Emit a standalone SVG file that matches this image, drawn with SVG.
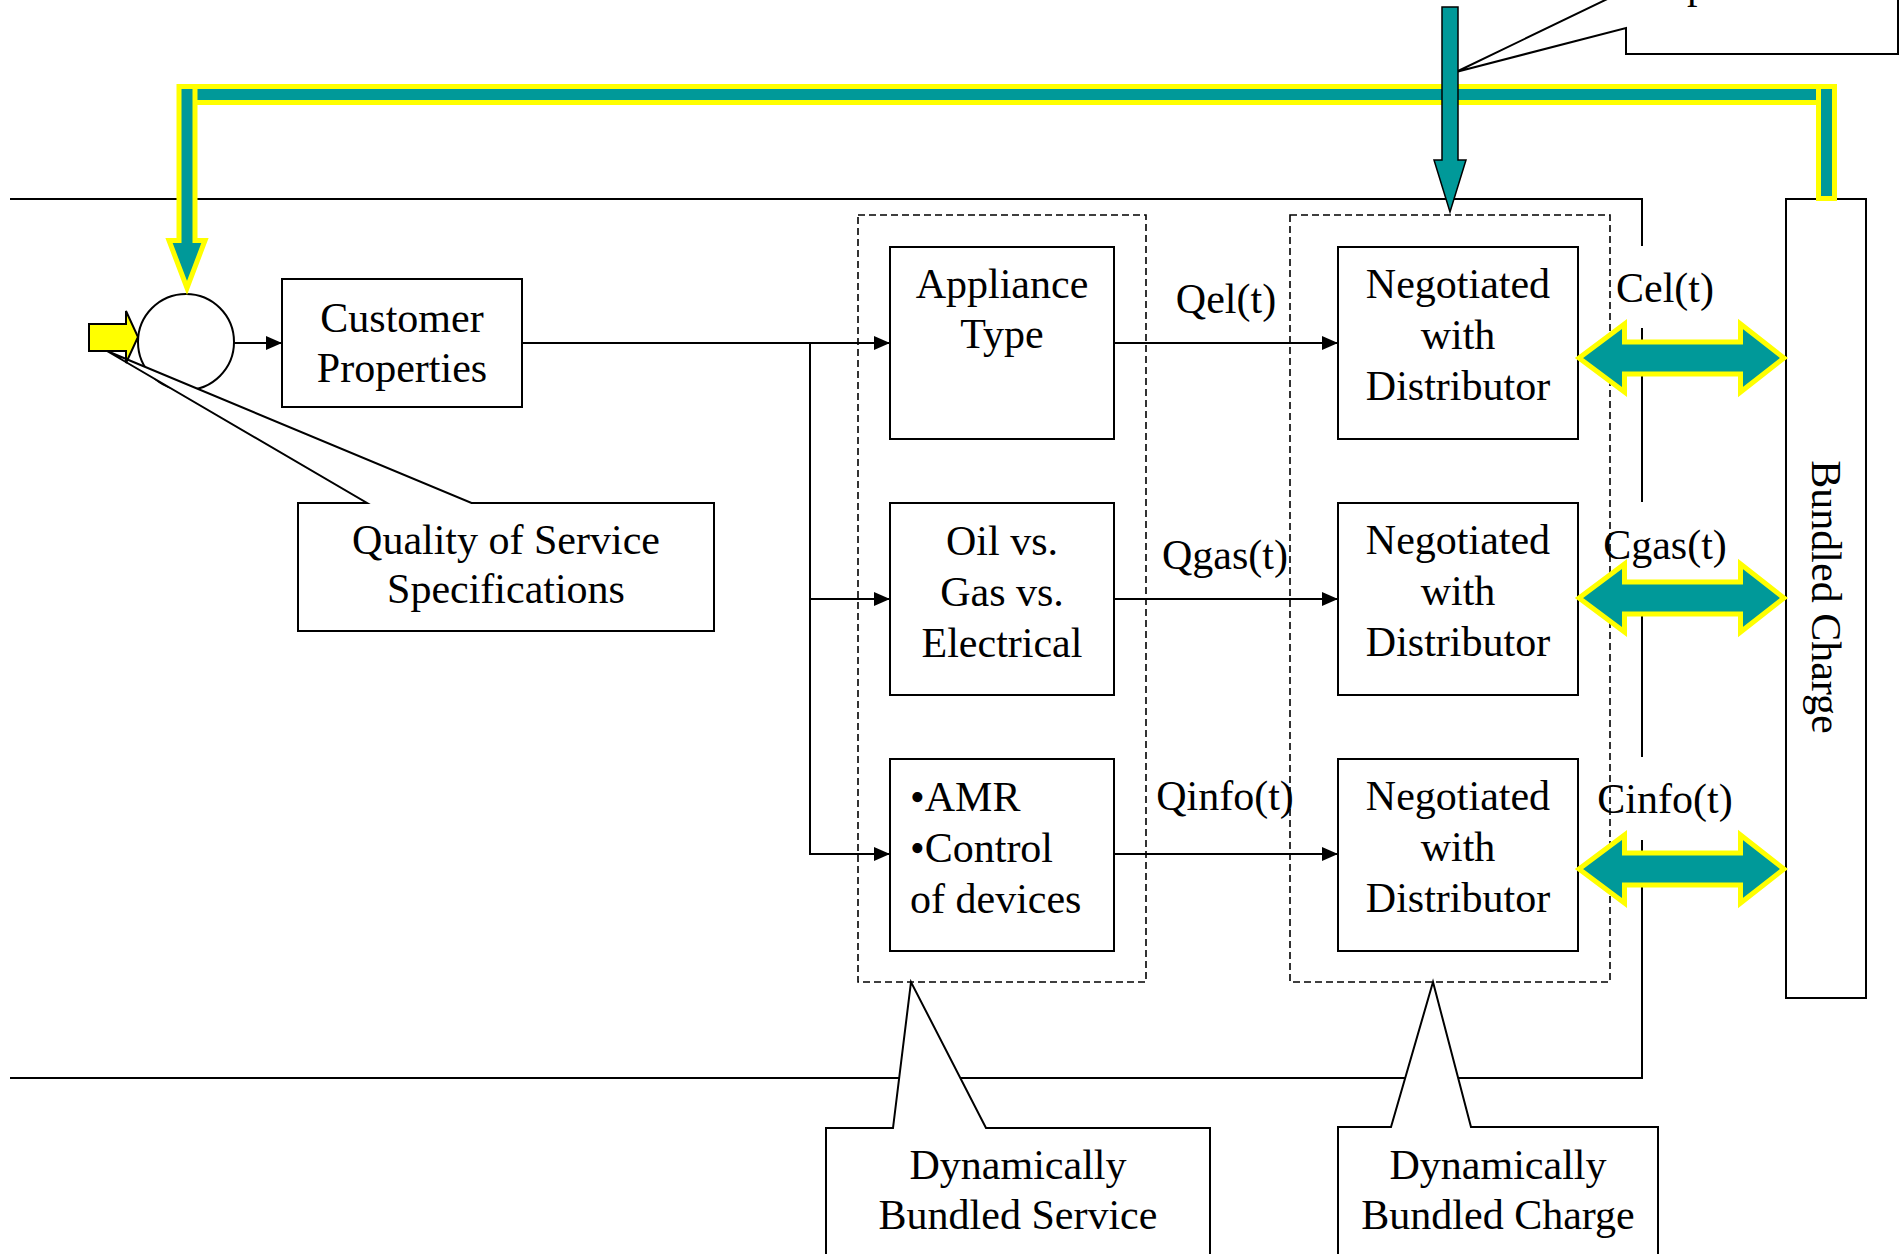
<svg xmlns="http://www.w3.org/2000/svg" width="1900" height="1254" viewBox="0 0 1900 1254">
<style>
.box{fill:#fff;stroke:#000;stroke-width:2}
.t{font-family:"Liberation Serif","Times New Roman",serif;font-size:42px;fill:#000}
.c{text-anchor:middle}
.dash{fill:none;stroke:#000;stroke-width:1.6;stroke-dasharray:7 4}
.ln{fill:none;stroke:#000;stroke-width:2}
.conn{fill:none;stroke:#000;stroke-width:2;marker-end:url(#ah)}
.callout{fill:#fff;stroke:#000;stroke-width:2;stroke-linejoin:miter}
.bus{fill:#009999;stroke:#ffff00;stroke-width:5;stroke-linejoin:miter}
.dbl{fill:#009999;stroke:#ffff00;stroke-width:5;stroke-linejoin:miter}
</style>
<defs>
<marker id="ah" markerUnits="userSpaceOnUse" markerWidth="16" markerHeight="14" refX="16" refY="7" orient="auto">
<path d="M0,0 L16,7 L0,14 z" fill="#000"/>
</marker>
<path id="dblArrow" class="dbl" d="M0,0 L45.5,-34 L45.5,-16 L161.5,-16 L161.5,-34 L205,0 L161.5,34 L161.5,16 L45.5,16 L45.5,34 Z"/>
</defs>
<rect width="1900" height="1254" fill="#fff"/>

<!-- frame -->
<g id="frame">
<path class="ln" d="M10,199 H1642 V246"/>
<path class="ln" d="M1642,328 V502"/>
<path class="ln" d="M1642,582 V757"/>
<path class="ln" d="M1642,840 V1078 H10"/>
</g>

<!-- dashed groups -->
<g id="group-service"><rect class="dash" x="858" y="215" width="288" height="767"/></g>
<g id="group-charge"><rect class="dash" x="1290" y="215" width="320" height="767"/></g>

<!-- connectors -->
<g id="connectors">
<path class="conn" d="M234,343 H282"/>
<path class="conn" d="M522,343 H890"/>
<path class="conn" d="M810,343 V854 H890"/>
<path class="conn" d="M810,599 H890"/>
<path class="conn" d="M1114,343 H1338"/>
<path class="conn" d="M1114,599 H1338"/>
<path class="conn" d="M1114,854 H1338"/>
</g>

<!-- nodes -->
<g id="customer-properties">
<rect class="box" x="282" y="279" width="240" height="128"/>
<text class="t c" x="402" y="332">Customer</text>
<text class="t c" x="402" y="382">Properties</text>
</g>
<g id="appliance-type">
<rect class="box" x="890" y="247" width="224" height="192"/>
<text class="t c" x="1002" y="298">Appliance</text>
<text class="t c" x="1002" y="348">Type</text>
</g>
<g id="oil-gas-electrical">
<rect class="box" x="890" y="503" width="224" height="192"/>
<text class="t c" x="1002" y="555">Oil vs.</text>
<text class="t c" x="1002" y="606">Gas vs.</text>
<text class="t c" x="1002" y="657">Electrical</text>
</g>
<g id="amr-control">
<rect class="box" x="890" y="759" width="224" height="192"/>
<text class="t" x="910" y="811">•AMR</text>
<text class="t" x="910" y="862">•Control</text>
<text class="t" x="910" y="913">of devices</text>
</g>
<g id="negotiated-el">
<rect class="box" x="1338" y="247" width="240" height="192"/>
<text class="t c" x="1458" y="298">Negotiated</text>
<text class="t c" x="1458" y="349">with</text>
<text class="t c" x="1458" y="400">Distributor</text>
</g>
<g id="negotiated-gas">
<rect class="box" x="1338" y="503" width="240" height="192"/>
<text class="t c" x="1458" y="554">Negotiated</text>
<text class="t c" x="1458" y="605">with</text>
<text class="t c" x="1458" y="656">Distributor</text>
</g>
<g id="negotiated-info">
<rect class="box" x="1338" y="759" width="240" height="192"/>
<text class="t c" x="1458" y="810">Negotiated</text>
<text class="t c" x="1458" y="861">with</text>
<text class="t c" x="1458" y="912">Distributor</text>
</g>
<g id="bundled-charge">
<rect class="box" x="1786" y="199" width="80" height="799"/>
<text class="t c" transform="translate(1812,597) rotate(90)">Bundled Charge</text>
</g>
<g id="summing-junction">
<circle cx="186" cy="342" r="48" fill="#fff" stroke="#000" stroke-width="2"/>
</g>

<!-- callouts -->
<g id="callout-qos">
<path class="callout" d="M298,503 H367 L107,351 L471.5,503 H714 V631 H298 Z"/>
<text class="t c" x="506" y="554">Quality of Service</text>
<text class="t c" x="506" y="603">Specifications</text>
</g>
<g id="callout-service">
<path class="callout" d="M826,1280 V1128 H893 L911,982 L986,1128 H1210 V1280"/>
<text class="t c" x="1018" y="1179">Dynamically</text>
<text class="t c" x="1018" y="1229">Bundled Service</text>
</g>
<g id="callout-charge">
<path class="callout" d="M1338,1280 V1127 H1391 L1433,982 L1471,1127 H1658 V1280"/>
<text class="t c" x="1498" y="1179">Dynamically</text>
<text class="t c" x="1498" y="1229">Bundled Charge</text>
</g>
<g id="callout-top">
<path class="callout" d="M1626,-60 V-10 L1456,72 L1626,28 V54 H1898 V-60 Z"/>
<text class="t" x="1687" y="-2">p</text>
</g>

<!-- input arrow -->
<g id="input-arrow">
<path d="M89,324 H126 V311 L138,337 L126,363 V351 H89 Z" fill="#ffff00" stroke="#000" stroke-width="2"/>
</g>

<!-- feedback bus -->
<g id="feedback-bus">
<rect class="bus" x="185" y="86.5" width="1643" height="16"/>
<path class="bus" d="M179,86.5 H195 V240.5 H205 L187,288 L169,240.5 H179 Z"/>
<rect class="bus" x="1818.5" y="86.5" width="16" height="112"/>
</g>

<!-- central input arrow -->
<g id="top-input-arrow">
<path d="M1442,7 H1458 V160 H1466 L1450,212 L1434,160 H1442 Z" fill="#009999" stroke="#000" stroke-width="1.5"/>
</g>

<!-- charge exchange arrows -->
<g id="charge-arrows">
<use href="#dblArrow" transform="translate(1579,358)"/>
<use href="#dblArrow" transform="translate(1579,598)"/>
<use href="#dblArrow" transform="translate(1579,869)"/>
</g>

<!-- labels -->
<g id="labels">
<text class="t c" x="1226" y="313">Qel(t)</text>
<text class="t c" x="1225" y="569">Qgas(t)</text>
<text class="t c" x="1225" y="810">Qinfo(t)</text>
<text class="t c" x="1665" y="302">Cel(t)</text>
<text class="t c" x="1665" y="559">Cgas(t)</text>
<text class="t c" x="1665" y="813">Cinfo(t)</text>
</g>
</svg>
